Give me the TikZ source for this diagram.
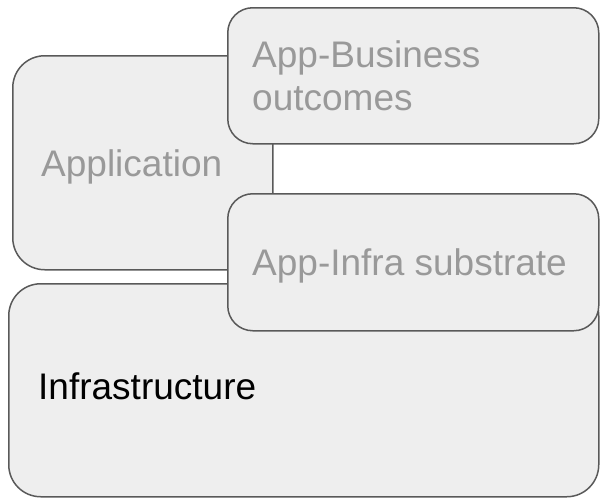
\documentclass[tikz,border=0pt]{standalone}
\usepackage{fontspec}
\setmainfont{Liberation Sans}
\definecolor{boxfill}{HTML}{EEEEEE}
\definecolor{boxline}{HTML}{595959}
\definecolor{txtgray}{HTML}{999999}
\tikzset{
  box/.style={draw=boxline, fill=boxfill, line width=1.5pt, inner sep=0pt, anchor=north west},
  lbl/.style={inner sep=0pt, anchor=base west, align=left, font=\fontsize{37}{43}\selectfont},
}
\begin{document}
\begin{tikzpicture}[x=1pt,y=-1pt]
\useasboundingbox (0,0) rectangle (600,498);
\node[box, rounded corners=32pt, minimum width=260pt, minimum height=214pt] (app) at (12,55) {};
\node[box, rounded corners=25pt, minimum width=371pt, minimum height=136pt] (biz) at (227,7) {};
\node[box, rounded corners=32pt, minimum width=590pt, minimum height=213pt] (infra) at (8,283) {};
\node[box, rounded corners=25pt, minimum width=371pt, minimum height=137pt] (sub) at (227,193) {};
\node[lbl, text=txtgray] (appt) at (41,176) {Application};
\node[lbl, text=txtgray] (bizt) at (252,110) {App-Business\\outcomes};
\node[lbl, text=txtgray] (subt) at (252,275) {App-Infra substrate};
\node[lbl, text=black] (infrat) at (38,399) {Infrastructure};
\end{tikzpicture}
\end{document}
